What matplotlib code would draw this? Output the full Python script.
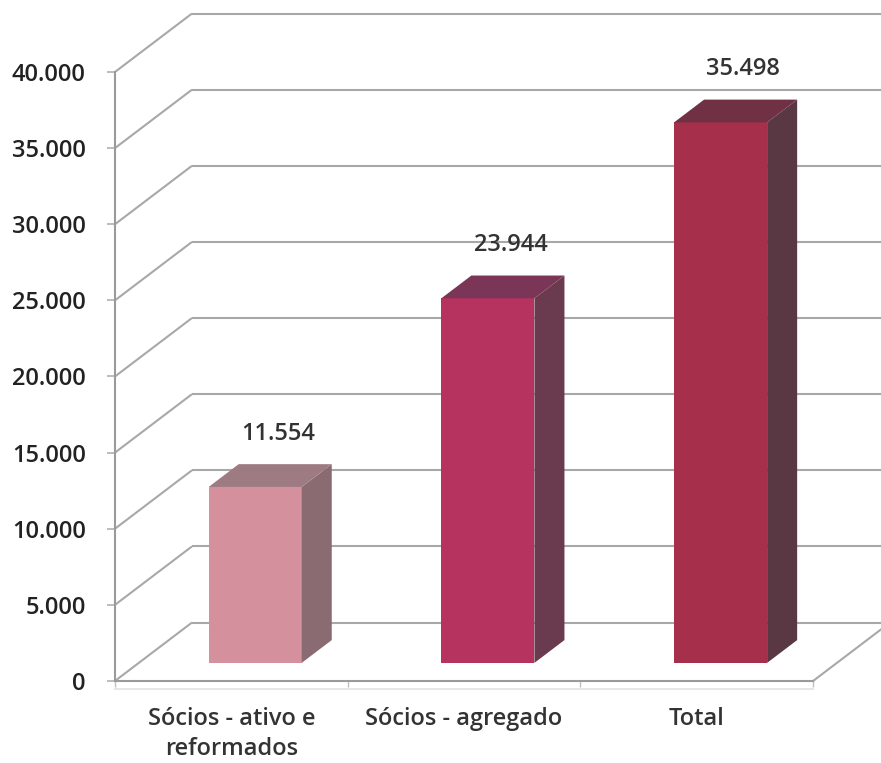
import matplotlib
matplotlib.use("Agg")
import matplotlib.pyplot as plt
from matplotlib.patches import Polygon
from matplotlib.ticker import FuncFormatter, FixedLocator
import numpy as np

# dados
categorias = ["Sócios - ativo e\nreformados", "Sócios - agregado", "Total"]
valores = [11554, 23944, 35498]
rotulos = ["11.554", "23.944", "35.498"]
y_ticks = list(range(0, 40001, 5000))

cor_frente = ["#D4919D", "#B7335F", "#A6304B"]
cor_topo = ["#9E7A82", "#7B3556", "#6F3143"]
cor_lado = ["#8A6B72", "#6A3B4E", "#593843"]

# geometria do efeito 3D (profundidade em unidades de dados)
DX = 0.331          # deslocamento x da parede do fundo (categorias)
DV = 3840           # deslocamento y da parede do fundo (valor)
F0, F1 = 0.31, 0.70  # frente / trás da barra, em fração da profundidade
W = 0.40            # largura da barra
GRID = "#A8A8A8"
TXT = "#333333"
FS = 17

plt.rcParams["font.family"] = ["Open Sans", "DejaVu Sans"]

fig = plt.figure(figsize=(8.81, 7.63), dpi=100)
ax = fig.add_axes([0, 0, 1, 1])
ax.set_xlim(-0.994, 2.792)
ax.set_ylim(-5386, 44729)

xs = np.arange(len(categorias))
xmax = ax.get_xlim()[1]

# grelha: parede lateral (diagonais) + parede do fundo (horizontais)
for v in y_ticks:
    ax.plot([-0.5, -0.5 + DX], [v, v + DV], color=GRID, lw=1.5, zorder=1,
            solid_capstyle="butt")
    ax.plot([-0.5 + DX, xmax], [v + DV, v + DV], color=GRID, lw=1.5, zorder=1,
            solid_capstyle="butt")
# chão, lado direito
ax.plot([2.5, 2.5 + DX], [0, DV], color=GRID, lw=1.5, zorder=1)
ax.plot([-0.5, 2.5], [-520, -520], color="#E2E2E2", lw=1.2, zorder=1)

# barras: face da frente pela API bar, lado e topo como polígonos
ax.bar(xs + F0 * DX, valores, width=W, bottom=F0 * DV, color=cor_frente,
       zorder=3, linewidth=0)
for i, h in enumerate(valores):
    xl = xs[i] - W / 2
    xr = xs[i] + W / 2
    lado = [(xr + F0 * DX, F0 * DV), (xr + F1 * DX, F1 * DV),
            (xr + F1 * DX, h + F1 * DV), (xr + F0 * DX, h + F0 * DV)]
    topo = [(xl + F0 * DX, h + F0 * DV), (xr + F0 * DX, h + F0 * DV),
            (xr + F1 * DX, h + F1 * DV), (xl + F1 * DX, h + F1 * DV)]
    ax.add_patch(Polygon(lado, closed=True, facecolor=cor_lado[i],
                         edgecolor="none", zorder=3))
    ax.add_patch(Polygon(topo, closed=True, facecolor=cor_topo[i],
                         edgecolor="none", zorder=3))
    ax.text(xs[i] + 0.2, h + 4700, rotulos[i], ha="center", va="center",
            fontsize=FS, color=TXT, fontweight="semibold", zorder=4)

# eixos
for s in ("top", "right"):
    ax.spines[s].set_visible(False)
ax.spines["left"].set_position(("data", -0.5))
ax.spines["left"].set_bounds(0, 40000)
ax.spines["bottom"].set_position(("data", 0))
ax.spines["bottom"].set_bounds(-0.5, 2.5)
for s in ("left", "bottom"):
    ax.spines[s].set_color("#9A9A9A")
    ax.spines[s].set_linewidth(1.5)
    ax.spines[s].set_zorder(2)

ax.yaxis.set_major_locator(FixedLocator(y_ticks))
ax.yaxis.set_major_formatter(
    FuncFormatter(lambda v, p: f"{int(v):,}".replace(",", ".")))
ax.tick_params(axis="y", direction="out", length=6, width=1.2,
               color="#B0B0B0", pad=15, labelsize=FS, labelcolor="#222222")
for lb in ax.get_yticklabels():
    lb.set_fontweight("semibold")

ax.set_xticks(xs)
ax.set_xticklabels(categorias, linespacing=1.3, fontweight="semibold")
ax.xaxis.set_minor_locator(FixedLocator([-0.5, 0.5, 1.5, 2.5]))
ax.tick_params(axis="x", which="major", length=0, pad=19, labelsize=FS,
               labelcolor=TXT)
ax.tick_params(axis="x", which="minor", direction="out", length=4,
               width=1.0, color="#C0C0C0")

fig.savefig("out.png", dpi=100)
